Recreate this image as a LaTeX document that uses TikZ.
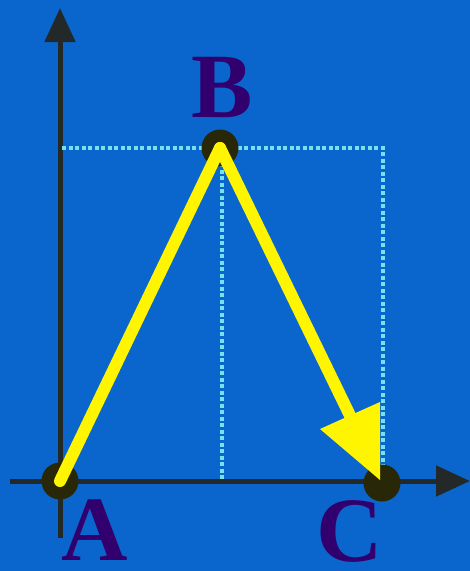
\documentclass[tikz,border=0pt]{standalone}
\usepackage{fontspec}
\setmainfont{Liberation Serif}
\usetikzlibrary{arrows.meta}
\definecolor{bgblue}{RGB}{10,102,204}
\definecolor{axisc}{RGB}{35,40,40}
\definecolor{dotc}{RGB}{40,40,8}
\definecolor{guidec}{RGB}{120,225,240}
\definecolor{vecc}{RGB}{255,245,0}
\definecolor{labc}{RGB}{50,0,110}
\tikzset{
  axisline/.style={draw=axisc, line width=5pt, -{Triangle[length=34pt,width=30pt]}},
  guide/.style={draw=guidec, line width=3.5pt, dash pattern=on 4pt off 2.5pt},
  pointdot/.style={circle, fill=dotc, minimum size=37pt, inner sep=0pt},
  vec/.style={draw=vecc, line width=12pt},
  head/.style={fill=vecc},
  lab/.style={text=labc, font=\bfseries\fontsize{92}{92}\selectfont, inner sep=0pt}
}
\begin{document}
\begin{tikzpicture}[x=1pt,y=-1pt]
\fill[bgblue] (0,0) rectangle (470,571);
\useasboundingbox (0,0) rectangle (470,571);
% axes
\coordinate (ybot) at (60,538);
\coordinate (ytop) at (60,8);
\coordinate (xleft) at (10,481);
\coordinate (xright) at (470,481);
\draw[axisline] (ybot) -- (ytop);
\draw[axisline] (xleft) -- (xright);
% guide lines
\coordinate (gl) at (62,148);
\coordinate (gr) at (383,148);
\coordinate (gb) at (383,481);
\coordinate (bt) at (222,150);
\coordinate (bb) at (222,481);
\draw[guide] (gl) -- (gr) -- (gb);
\draw[guide] (bt) -- (bb);
% points
\node[pointdot] (A) at (60,481) {};
\node[pointdot] (B) at (220,148) {};
\node[pointdot] (C) at (382,483) {};
% vectors
\coordinate (h1) at (320,429);
\coordinate (h2) at (380,402);
\coordinate (ht) at (380,480);
\coordinate (hm) at (350,415.5);
\draw[vec, line cap=round] (A.center) -- (B.center);
\draw[vec, line cap=round] (B.center) -- (hm);
\fill[head] (h1) -- (h2) -- (ht) -- cycle;
% labels
\node[lab] (LA) at (95,530) {A};
\node[lab] (LB) at (222,88) {B};
\node[lab] (LC) at (350,531) {C};
\end{tikzpicture}
\end{document}
